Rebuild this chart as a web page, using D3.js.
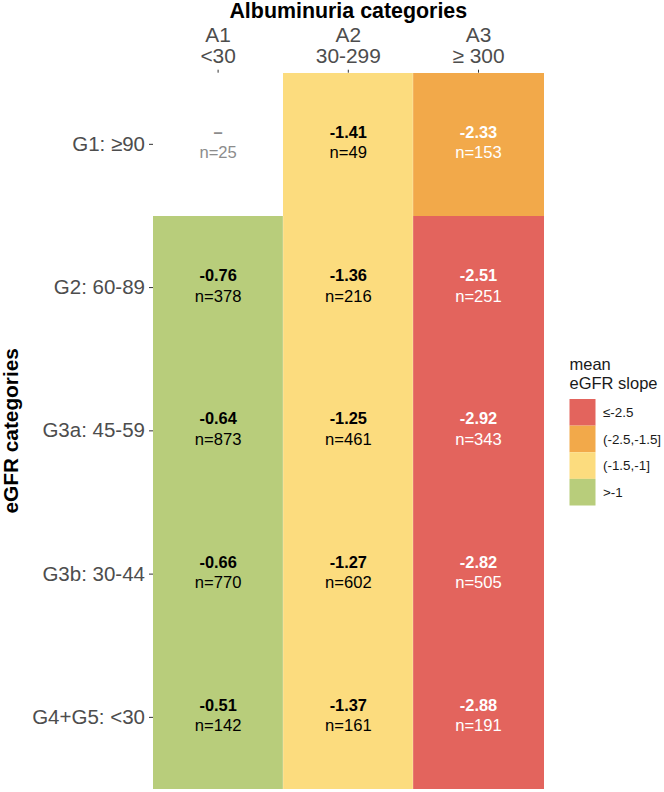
<!DOCTYPE html>
<html>
<head>
<meta charset="utf-8">
<script src="https://cdn.jsdelivr.net/npm/d3@7"></script>
<style>
  body { margin: 0; background: #fff; }
  svg text { font-family: "Liberation Sans", Arial, sans-serif; }
</style>
</head>
<body>
<svg id="chart" width="664" height="792"></svg>
<script>
const albCats = ["A1\n<30", "A2\n30-299", "A3\n\u2265 300"];
const gfrCats = ["G1: \u226590", "G2: 60-89", "G3a: 45-59", "G3b: 30-44", "G4+G5: <30"];
// mean eGFR slope per cell (row = eGFR cat, col = albuminuria cat); null = not shown
const slopes = [
  [null, -1.41, -2.33],
  [-0.76, -1.36, -2.51],
  [-0.64, -1.25, -2.92],
  [-0.66, -1.27, -2.82],
  [-0.51, -1.37, -2.88]
];
const counts = [
  [25, 49, 153],
  [378, 216, 251],
  [873, 461, 343],
  [770, 602, 505],
  [142, 161, 191]
];
const legendLabels = ["\u2264-2.5", "(-2.5,-1.5]", "(-1.5,-1]", ">-1"];
const legendColors = ["#E3645D", "#F2A94A", "#FCDC7E", "#B8CD7B"];

const svg = d3.select("#chart");

const x = d3.scaleBand().domain(albCats).range([153, 543.6]);
const y = d3.scaleBand().domain(gfrCats).range([72.7, 789]);

// class of slope -> colour
const fillFor = v => {
  if (v == null) return "#fff";
  if (v <= -2.5) return legendColors[0];
  if (v <= -1.5) return legendColors[1];
  if (v <= -1) return legendColors[2];
  return legendColors[3];
};

const cells = [];
gfrCats.forEach((g, i) => {
  albCats.forEach((a, j) => {
    cells.push({g, a, v: slopes[i][j], n: counts[i][j]});
  });
});

svg.append("g")
  .attr("shape-rendering", "crispEdges")
  .selectAll("rect")
  .data(cells.filter(d => d.v != null))
  .join("rect")
  .attr("x", d => Math.round(x(d.a)))
  .attr("y", d => Math.round(y(d.g)))
  .attr("width", d => Math.round(x(d.a) + x.bandwidth()) - Math.round(x(d.a)))
  .attr("height", d => Math.round(y(d.g) + y.bandwidth()) - Math.round(y(d.g)))
  .attr("fill", d => fillFor(d.v));

// faint seams between columns
svg.append("g").selectAll("line")
  .data(albCats.slice(1))
  .join("line")
  .attr("x1", d => Math.round(x(d))).attr("x2", d => Math.round(x(d)))
  .attr("y1", d => d === albCats[1] ? Math.round(y(gfrCats[1])) : Math.round(y(gfrCats[0])))
  .attr("y2", 789)
  .attr("stroke", "rgba(255,255,255,0.35)")
  .attr("stroke-width", 0.8);

const labels = svg.append("g").selectAll("g")
  .data(cells)
  .join("g")
  .attr("transform", d => `translate(${x(d.a) + x.bandwidth() / 2},${y(d.g) + y.bandwidth() / 2})`);

const txtColor = d => d.v == null ? "#8c8c8c" : (d.v <= -1.5 ? "#fff" : "#000");

labels.append("text")
  .attr("text-anchor", "middle")
  .attr("y", -6.5)
  .attr("font-size", 16.4)
  .attr("font-weight", "bold")
  .attr("fill", txtColor)
  .text(d => d.v == null ? "\u2013" : d.v.toFixed(2));

labels.append("text")
  .attr("text-anchor", "middle")
  .attr("y", 14)
  .attr("font-size", 16.6)
  .attr("fill", txtColor)
  .text(d => "n=" + d.n);

// top axis
const xAxis = svg.append("g")
  .attr("transform", "translate(0,72.7)")
  .call(d3.axisTop(x).tickSize(3).tickPadding(5));
xAxis.select(".domain").remove();
xAxis.selectAll(".tick line").attr("stroke", "#333");
xAxis.selectAll(".tick text").remove();
xAxis.selectAll(".tick").each(function(d) {
  const parts = d.split("\n");
  const t = d3.select(this).append("text")
    .attr("text-anchor", "middle")
    .attr("fill", "#4D4D4D")
    .attr("font-size", 20.9);
  t.append("tspan").attr("x", 0).attr("y", -31).text(parts[0]);
  t.append("tspan").attr("x", 0).attr("y", -10).text(parts[1]);
});

// left axis
const yAxis = svg.append("g")
  .attr("transform", "translate(153,0)")
  .call(d3.axisLeft(y).tickSize(4).tickPadding(4));
yAxis.select(".domain").remove();
yAxis.selectAll(".tick line").attr("stroke", "#333");
yAxis.selectAll(".tick text")
  .attr("fill", "#4D4D4D")
  .attr("font-size", 20.5)
  .attr("font-family", "Liberation Sans, Arial, sans-serif");

// axis titles
svg.append("text")
  .attr("x", (153 + 543.6) / 2)
  .attr("y", 17.5)
  .attr("text-anchor", "middle")
  .attr("font-size", 21.4)
  .attr("font-weight", "bold")
  .text("Albuminuria categories");

svg.append("text")
  .attr("transform", `translate(17.5,${(72.7 + 789) / 2}) rotate(-90)`)
  .attr("text-anchor", "middle")
  .attr("font-size", 20.8)
  .attr("font-weight", "bold")
  .text("eGFR categories");

// legend
const leg = svg.append("g").attr("transform", "translate(569.5,0)");
leg.append("text").attr("x", 0).attr("y", 370).attr("font-size", 16.5).attr("fill", "#1a1a1a").text("mean");
leg.append("text").attr("x", 0).attr("y", 388.5).attr("font-size", 16.5).attr("fill", "#1a1a1a").text("eGFR slope");
const ly = d3.scaleBand().domain(legendLabels).range([399, 505.5]);
leg.selectAll("rect.key")
  .data(legendLabels)
  .join("rect")
  .attr("class", "key")
  .attr("x", 0)
  .attr("y", d => ly(d))
  .attr("width", 26)
  .attr("height", ly.bandwidth())
  .attr("fill", (d, i) => legendColors[i]);
leg.selectAll("text.lab")
  .data(legendLabels)
  .join("text")
  .attr("class", "lab")
  .attr("x", 33.5)
  .attr("y", d => ly(d) + ly.bandwidth() / 2 + 4.8)
  .attr("font-size", 13.4)
  .attr("fill", "#1a1a1a")
  .text(d => d);
</script>
</body>
</html>
